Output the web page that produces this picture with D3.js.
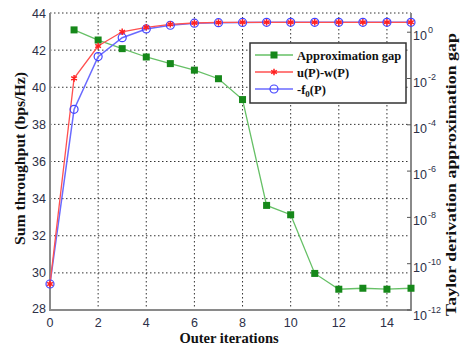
<!DOCTYPE html>
<html><head><meta charset="utf-8">
<script src="https://cdn.jsdelivr.net/npm/d3@7"></script>
<style>body{margin:0;background:#fff}svg{display:block}</style>
</head><body><svg id="c" width="460" height="349"></svg>
<script>
const iterations = [0,1,2,3,4,5,6,7,8,9,10,11,12,13,14,15];
const gapIter = [1,2,3,4,5,6,7,8,9,10,11,12,13,14,15];
const gapValues = [1.26,0.46,0.195,0.085,0.044,0.023,0.0098,1.23e-3,3.3e-8,1.3e-8,3.8e-11,7.9e-12,8.7e-12,7.9e-12,8.7e-12];
const uwValues = [29.4,40.48,42.22,42.99,43.23,43.39,43.46,43.49,43.5,43.5,43.5,43.5,43.5,43.5,43.5,43.5];
const f0Values = [29.4,38.81,41.65,42.67,43.14,43.34,43.45,43.48,43.49,43.5,43.5,43.5,43.5,43.5,43.5,43.5];
const xTicks = [0,2,4,6,8,10,12,14];
const yTicks = [28,30,32,34,36,38,40,42,44];
const rightExps = [0,-2,-4,-6,-8,-10,-12];
const legendLabels = ["Approximation gap","u(P)-w(P)","-f0(P)"];

const svg = d3.select("#c");
const L=50,R=411,T=13,B=310;
const x = d3.scaleLinear().domain([0,15]).range([L,R]);
const y = d3.scaleLinear().domain([28,44]).range([B,T]);
const yr = d3.scaleLog().domain([1e-12, Math.pow(10,0.83)]).range([B,T]);

// grid
const g = svg.append("g");
g.selectAll(".gx").data(xTicks.filter(d=>d>0)).join("line")
 .attr("x1",d=>x(d)).attr("x2",d=>x(d)).attr("y1",T).attr("y2",B)
 .attr("stroke","#333").attr("stroke-width",1).attr("stroke-dasharray","1.5,2.5");
g.selectAll(".gy").data(yTicks.filter(d=>d>28)).join("line")
 .attr("x1",L).attr("x2",R).attr("y1",d=>y(d)).attr("y2",d=>y(d))
 .attr("stroke","#333").attr("stroke-width",1).attr("stroke-dasharray","1.5,2.5");

// axes lines
const ax = svg.append("g").attr("stroke","#8a8a8a").attr("stroke-width",2).attr("fill","none");
ax.append("line").attr("x1",L).attr("x2",L).attr("y1",T).attr("y2",B+1);
ax.append("line").attr("x1",R).attr("x2",R).attr("y1",T).attr("y2",B+1);
ax.append("line").attr("x1",L).attr("x2",R).attr("y1",B).attr("y2",B);

// ticks on right axis
svg.selectAll(".rt").data(rightExps).join("line")
 .attr("x1",R-4).attr("x2",R).attr("y1",d=>yr(Math.pow(10,d))).attr("y2",d=>yr(Math.pow(10,d)))
 .attr("stroke","#555").attr("stroke-width",1);

// tick labels
const tf = "Liberation Sans, Arial, sans-serif";
const tc = "#2c3048";
svg.selectAll(".xl").data(xTicks).join("text")
 .attr("x",d=>x(d)).attr("y",327).attr("text-anchor","middle")
 .attr("font-family",tf).attr("font-size",12.5).attr("fill",tc).text(d=>d);
svg.selectAll(".yl").data(yTicks).join("text")
 .attr("x",46).attr("y",d=>y(d)+ (d===28?3:4.5)).attr("text-anchor","end")
 .attr("font-family",tf).attr("font-size",12.5).attr("fill",tc).text(d=>d);
const rl = svg.selectAll(".rl").data(rightExps).join("text")
 .attr("x",413).attr("y",d=>yr(Math.pow(10,d))+ (d===-12?10:8))
 .attr("font-family",tf).attr("font-size",12.5).attr("fill",tc);
rl.append("tspan").text("10");
rl.append("tspan").attr("dx",1).attr("dy",-7).attr("font-size",9).text(d=>String(d));

// axis titles
const sf = "Liberation Serif, Times New Roman, serif";
svg.append("text").attr("transform","translate(25,158.5) rotate(-90)").attr("text-anchor","middle")
 .attr("font-family",sf).attr("font-weight","bold").attr("font-size",14.5).attr("fill","#111")
 .attr("textLength",173).attr("lengthAdjust","spacingAndGlyphs")
 .text("Sum throughput (bps/Hz)");
svg.append("text").attr("x",229).attr("y",343).attr("text-anchor","middle")
 .attr("font-family",sf).attr("font-weight","bold").attr("font-size",14.5).attr("fill","#111")
 .text("Outer iterations");
svg.append("text").attr("transform","translate(456,174.5) rotate(-90)").attr("text-anchor","middle")
 .attr("font-family",sf).attr("font-weight","bold").attr("font-size",14.5).attr("fill","#111")
 .attr("textLength",283).attr("lengthAdjust","spacingAndGlyphs")
 .text("Taylor derivation approximation gap");

// series
const gapPts = gapIter.map((d,i)=>[d,gapValues[i]]);
svg.append("path").datum(gapPts).attr("fill","none").attr("stroke","#66c066").attr("stroke-width",1.3)
 .attr("d",d3.line().x(d=>x(d[0])).y(d=>yr(d[1])));
svg.selectAll(".gm").data(gapPts).join("rect")
 .attr("x",d=>x(d[0])-3.5).attr("y",d=>yr(d[1])-3.5).attr("width",7).attr("height",7).attr("fill","#16881a");

const uwPts = iterations.map((d,i)=>[d,uwValues[i]]);
const f0Pts = iterations.map((d,i)=>[d,f0Values[i]]);
svg.append("path").datum(f0Pts).attr("fill","none").attr("stroke","#6a6aff").attr("stroke-width",1.5)
 .attr("d",d3.line().x(d=>x(d[0])).y(d=>y(d[1])));
svg.append("path").datum(uwPts).attr("fill","none").attr("stroke","#ff5050").attr("stroke-width",1.3)
 .attr("d",d3.line().x(d=>x(d[0])).y(d=>y(d[1])));
svg.selectAll(".bm").data(f0Pts).join("circle")
 .attr("cx",d=>x(d[0])).attr("cy",d=>y(d[1])).attr("r",4).attr("fill","none").attr("stroke","#4444ff").attr("stroke-width",1.2);
const star = d3.symbol().type(d3.symbolAsterisk).size(30);
svg.selectAll(".rm").data(uwPts).join("path")
 .attr("transform",d=>`translate(${x(d[0])},${y(d[1])})`).attr("d",star)
 .attr("stroke","#ff2020").attr("stroke-width",1.5).attr("fill","none");

// legend
const lg = svg.append("g");
lg.append("rect").attr("x",250).attr("y",43).attr("width",156).attr("height",60)
 .attr("fill","#fff").attr("stroke","#333").attr("stroke-width",1.5);
const ly=[55,72,89];
const lcol=["#66c066","#ff5050","#6a6aff"];
legendLabels.forEach((t,i)=>{
  lg.append("line").attr("x1",255).attr("x2",293).attr("y1",ly[i]).attr("y2",ly[i]).attr("stroke",lcol[i]).attr("stroke-width",1.3);
  if(i===0) lg.append("rect").attr("x",270.5).attr("y",ly[i]-3.5).attr("width",7).attr("height",7).attr("fill","#16881a");
  if(i===1) lg.append("path").attr("transform",`translate(274,${ly[i]})`).attr("d",star).attr("stroke","#ff2020").attr("stroke-width",1.5).attr("fill","none");
  if(i===2) lg.append("circle").attr("cx",274).attr("cy",ly[i]).attr("r",4).attr("fill","none").attr("stroke","#4444ff").attr("stroke-width",1.2);
  const tx = lg.append("text").attr("x",297).attr("y",ly[i]+4.5).attr("font-family",sf).attr("font-weight","bold").attr("font-size",12.5).attr("fill","#111");
  if(i===2){ tx.append("tspan").text("-f"); tx.append("tspan").attr("dy",3).attr("font-size",9).text("0"); tx.append("tspan").attr("dy",-3).text("(P)"); }
  else tx.text(t);
});
</script></body></html>
